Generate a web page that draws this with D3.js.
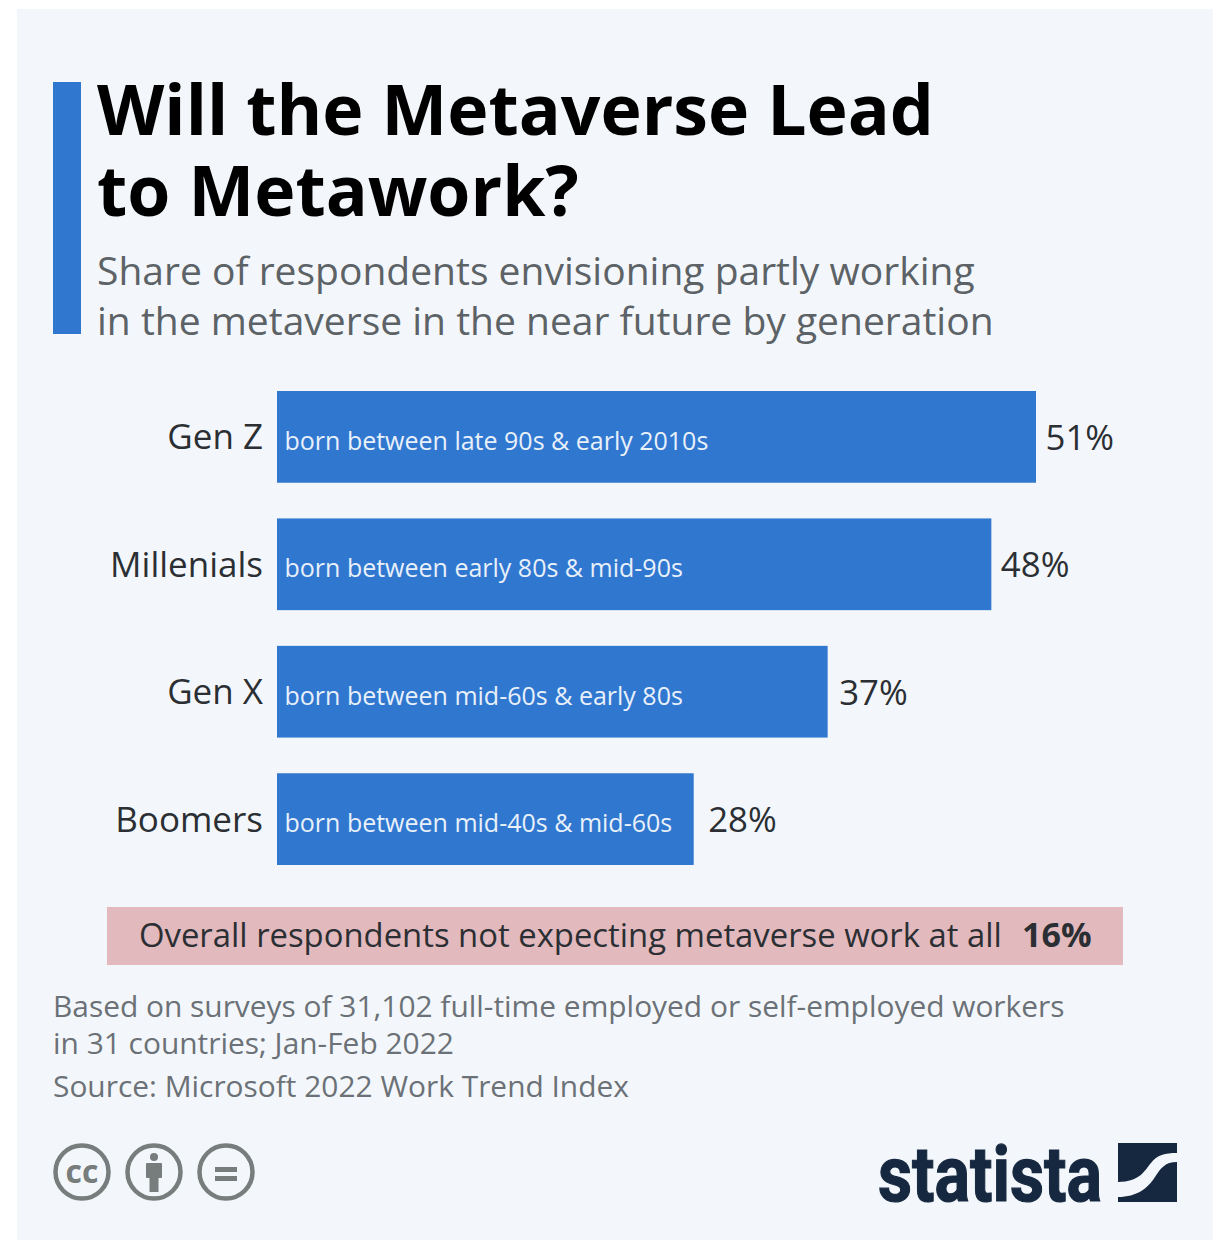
<!DOCTYPE html>
<html>
<head>
<meta charset="utf-8">
<script src="https://cdn.jsdelivr.net/npm/d3@7"></script>
<style>
body { margin: 0; background: #fff; }
text { font-family: "Open Sans", sans-serif; }
</style>
</head>
<body>
<div id="chart-area"></div>
<script>
// chart values
var generations = ["Gen Z", "Millenials", "Gen X", "Boomers"];
var shares = [51, 48, 37, 28];
var notes = ["born between late 90s & early 2010s", "born between early 80s & mid-90s", "born between mid-60s & early 80s", "born between mid-40s & mid-60s"];
var titleLines = ["Will the Metaverse Lead", "to Metawork?"];
var subtitleLines = ["Share of respondents envisioning partly working", "in the metaverse in the near future by generation"];
var footLines = ["Based on surveys of 31,102 full-time employed or self-employed workers", "in 31 countries; Jan-Feb 2022", "Source: Microsoft 2022 Work Trend Index"];

var svg = d3.select("#chart-area").append("svg")
            .attr("width", 1230)
            .attr("height", 1254)
            .style("display", "block");

svg.append("rect").attr("x", 17).attr("y", 9).attr("width", 1196).attr("height", 1231).attr("fill", "#f3f7fb");
svg.append("rect").attr("x", 53).attr("y", 82).attr("width", 28).attr("height", 252).attr("fill", "#3077d0");

svg.selectAll(".title").data(titleLines).enter().append("text")
   .attr("x", 97).attr("y", (d, i) => 134.5 + i * 81)
   .attr("font-size", 69.7).attr("font-weight", 700).attr("fill", "#000")
   .text(d => d);

svg.selectAll(".subtitle").data(subtitleLines).enter().append("text")
   .attr("x", 97).attr("y", (d, i) => 285 + i * 49.5)
   .attr("font-size", 39).attr("fill", "#5c6266")
   .text(d => d);

var x = d3.scaleLinear().domain([0, 51]).range([277, 1036]);
var y = d3.scaleBand().domain(generations).range([391, 865]).paddingInner(0.28);

var axis = d3.axisLeft(y).tickSize(0).tickPadding(14);
var axisG = svg.append("g").attr("transform", "translate(277,0)").call(axis);
axisG.select(".domain").remove();
axisG.selectAll("text").attr("font-size", 35).attr("font-family", "Open Sans").attr("fill", "#2b2f33").attr("dy", "0.36em");

svg.selectAll(".bar").data(generations).enter().append("rect")
   .attr("x", x(0)).attr("y", d => y(d))
   .attr("width", (d, i) => x(shares[i]) - x(0))
   .attr("height", y.bandwidth())
   .attr("fill", "#3077d0");

svg.selectAll(".note").data(notes).enter().append("text")
   .attr("x", x(0) + 7.5).attr("y", (d, i) => y(generations[i]) + 59)
   .attr("font-size", 25).attr("fill", "#e8f0fa")
   .text(d => d);

// the gap after each bar is not the same in the original
var labelGaps = [9.5, 9.5, 11.5, 14.5];
svg.selectAll(".val").data(shares).enter().append("text")
   .attr("x", (d, i) => x(d) + labelGaps[i]).attr("y", (d, i) => y(generations[i]) + 59)
   .attr("font-size", 34.8).attr("fill", "#2b2f33")
   .text(d => d + "%");

svg.append("rect").attr("x", 107).attr("y", 907).attr("width", 1016).attr("height", 58).attr("fill", "#e2b9bd");
svg.append("text").attr("x", 139).attr("y", 947).attr("font-size", 32.85).attr("fill", "#2b2f33")
   .text("Overall respondents not expecting metaverse work at all");
svg.append("text").attr("x", 1022).attr("y", 947).attr("font-size", 34).attr("font-weight", 700).attr("fill", "#2b2f33")
   .text("16%");

svg.selectAll(".foot").data(footLines).enter().append("text")
   .attr("x", 53).attr("y", (d, i) => [1017, 1054, 1097][i])
   .attr("font-size", 29.9).attr("fill", "#6b7176")
   .text(d => d);

// licence icons
var iconGrey = "#777c7c";
var icons = [82, 154, 226];
svg.selectAll(".icon").data(icons).enter().append("circle")
   .attr("cx", d => d).attr("cy", 1172).attr("r", 26.5)
   .attr("fill", "none").attr("stroke", iconGrey).attr("stroke-width", 4.5);
svg.append("text").attr("x", 82).attr("y", 1183).attr("text-anchor", "middle").attr("font-size", 32).attr("font-weight", 700).attr("fill", iconGrey).text("cc");
svg.append("circle").attr("cx", 154).attr("cy", 1157).attr("r", 4).attr("fill", iconGrey);
svg.append("rect").attr("x", 146).attr("y", 1163).attr("width", 16).attr("height", 15).attr("rx", 1).attr("fill", iconGrey);
svg.append("rect").attr("x", 149.5).attr("y", 1176).attr("width", 9).attr("height", 16).attr("fill", iconGrey);
[1167, 1176].forEach(v => svg.append("rect").attr("x", 215).attr("y", v).attr("width", 22).attr("height", 5).attr("fill", iconGrey));

// logo
var logoNavy = "#16283f";
svg.append("text").attr("x", 878).attr("y", 1201).attr("font-size", 78).attr("font-weight", 700)
   .style("font-family", "'Liberation Sans Narrow', 'Roboto', sans-serif")
   .attr("textLength", 224).attr("lengthAdjust", "spacingAndGlyphs")
   .attr("fill", logoNavy).attr("stroke", logoNavy).attr("stroke-width", 1.2).text("statista");
svg.append("rect").attr("x", 1118).attr("y", 1143).attr("width", 59).attr("height", 59).attr("fill", logoNavy);
svg.append("path").attr("d", "M1118,1182 C1140,1182 1145,1170 1151,1163 C1157,1155 1165,1153 1177,1153 L1177,1162 C1165,1162 1161,1168 1155,1177 C1148,1188 1137,1197 1118,1197 Z").attr("fill", "#f3f7fb");
</script>
</body>
</html>
